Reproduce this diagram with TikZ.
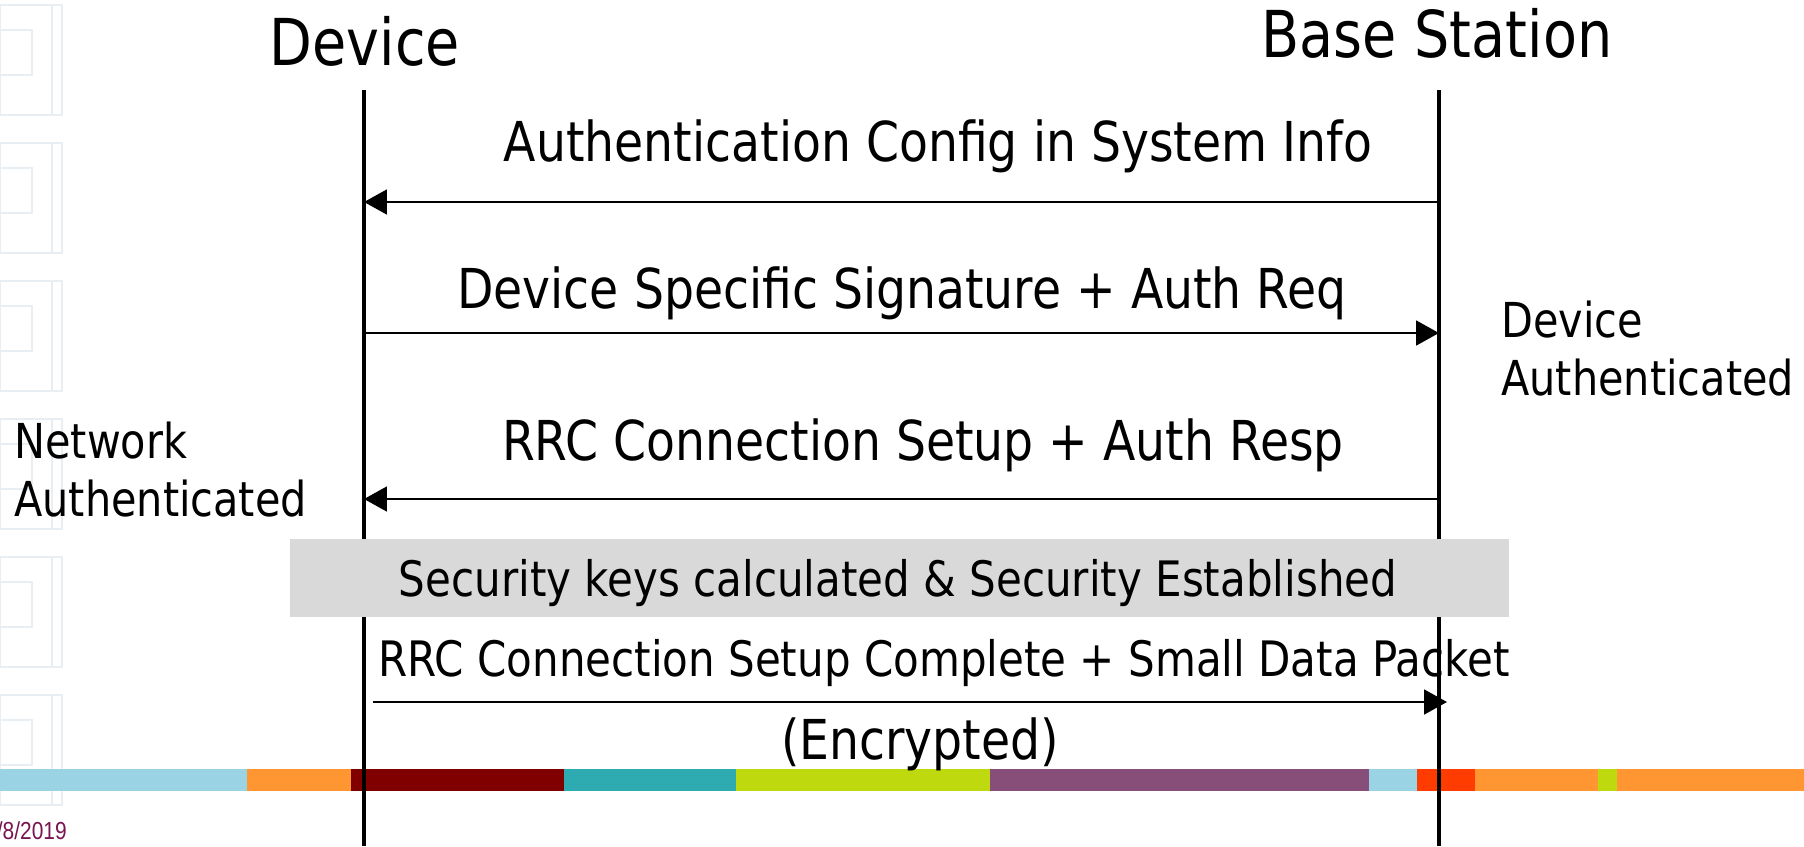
\documentclass[tikz,border=0pt]{standalone}
\usepackage{fontspec}
\setmainfont{DejaVu Sans}[FakeStretch=0.86]
\newfontfamily\datefont{Liberation Sans}[FakeStretch=0.85]
\usetikzlibrary{arrows.meta}

\definecolor{barblue}{RGB}{153,211,228}
\definecolor{barorange}{RGB}{255,150,50}
\definecolor{barred}{RGB}{128,0,0}
\definecolor{barteal}{RGB}{46,171,176}
\definecolor{barlime}{RGB}{190,217,14}
\definecolor{barpurple}{RGB}{136,78,122}
\definecolor{barflame}{RGB}{255,60,0}
\definecolor{keygray}{RGB}{217,217,217}
\definecolor{tilegray}{RGB}{232,238,241}
\definecolor{datecol}{RGB}{120,20,80}

\tikzset{
    lifeline/.style={line width=2.3pt},
    msg/.style={line width=1.5pt,-{Triangle[length=13pt,width=14pt]}},
    title/.style={anchor=base,inner sep=0pt,font=\fontsize{36.8}{44}\selectfont},
    msgtext/.style={anchor=base,inner sep=0pt,font=\fontsize{31.3}{37}\selectfont},
    smalltext/.style={anchor=base,inner sep=0pt,font=\fontsize{27.8}{33}\selectfont},
    sidetext/.style={anchor=base west,inner sep=0pt,align=left,font=\fontsize{27.4}{33}\selectfont},
    tile/.style={draw=tilegray,line width=1pt}
}

\begin{document}
\begin{tikzpicture}[x=0.02cm,y=-0.02cm]
    \useasboundingbox (0,0) rectangle (1804,846);

    %%%%%%%%%% Sfondo %%%%%%%%%%
    \foreach \y in {0,138,276,414,552,690} {
        \draw[tile] (0,\y+5) rectangle (62,\y+115);
        \draw[tile] (0,\y+30) rectangle (32,\y+75);
        \draw[tile] (52,\y+5) -- (52,\y+115);
    }
    \fill[barblue] (0,769) rectangle (247,791);
    \fill[barorange] (247,769) rectangle (351,791);
    \fill[barred] (351,769) rectangle (564,791);
    \fill[barteal] (564,769) rectangle (736,791);
    \fill[barlime] (736,769) rectangle (990,791);
    \fill[barpurple] (990,769) rectangle (1369,791);
    \fill[barblue] (1369,769) rectangle (1417,791);
    \fill[barflame] (1417,769) rectangle (1475,791);
    \fill[barorange] (1475,769) rectangle (1598,791);
    \fill[barlime] (1598,769) rectangle (1617,791);
    \fill[barorange] (1617,769) rectangle (1804,791);
    \node (date) at (67,831) [anchor=east,inner sep=0pt,text=datecol,font=\datefont\fontsize{14}{16}\selectfont] {/8/2019};

    %%%%%%%%%% Nodi %%%%%%%%%%
    \node (DEV) at (365,65) [title] {Device};
    \node (BS) at (1437,57) [title] {Base Station};
    \coordinate (DEVtop) at (364,90);
    \coordinate (DEVbot) at (364,846);
    \coordinate (BStop) at (1439,90);
    \coordinate (BSbot) at (1439,846);
    \draw[lifeline] (DEVtop) -- (DEVbot);
    \draw[lifeline] (BStop) -- (BSbot);

    \node (KEYS) at (899.5,578) [fill=keygray,minimum width=1219*0.02cm,minimum height=78*0.02cm,inner sep=0pt] {};
    \node (KEYStext) at (898,596) [smalltext] {Security keys calculated \& Security Established};

    \coordinate (D1) at (364,202);
    \coordinate (B1) at (1439,202);
    \coordinate (D2) at (364,333);
    \coordinate (B2) at (1439,333);
    \coordinate (D3) at (364,499);
    \coordinate (B3) at (1439,499);
    \coordinate (D4) at (373,702);
    \coordinate (B4) at (1447,702);

    \node (CONFIG) at (938,161) [msgtext] {Authentication Config in System Info};
    \node (SIGN) at (902,308) [msgtext] {Device Specific Signature + Auth Req};
    \node (SETUP) at (923,460) [msgtext] {RRC Connection Setup + Auth Resp};
    \node (DATA) at (944,676) [smalltext] {RRC Connection Setup Complete + Small Data Packet};
    \node (ENC) at (920,759) [msgtext] {(Encrypted)};

    \node (NETAUTH) at (14,516) [sidetext] {Network\\Authenticated};
    \node (DEVAUTH) at (1501,395) [sidetext] {Device\\Authenticated};

    %%%%%%%%% Frecce %%%%%%%%%
    \draw[msg] (B1) -- (D1);
    \draw[msg] (D2) -- (B2);
    \draw[msg] (B3) -- (D3);
    \draw[msg] (D4) -- (B4);
\end{tikzpicture}
\end{document}
